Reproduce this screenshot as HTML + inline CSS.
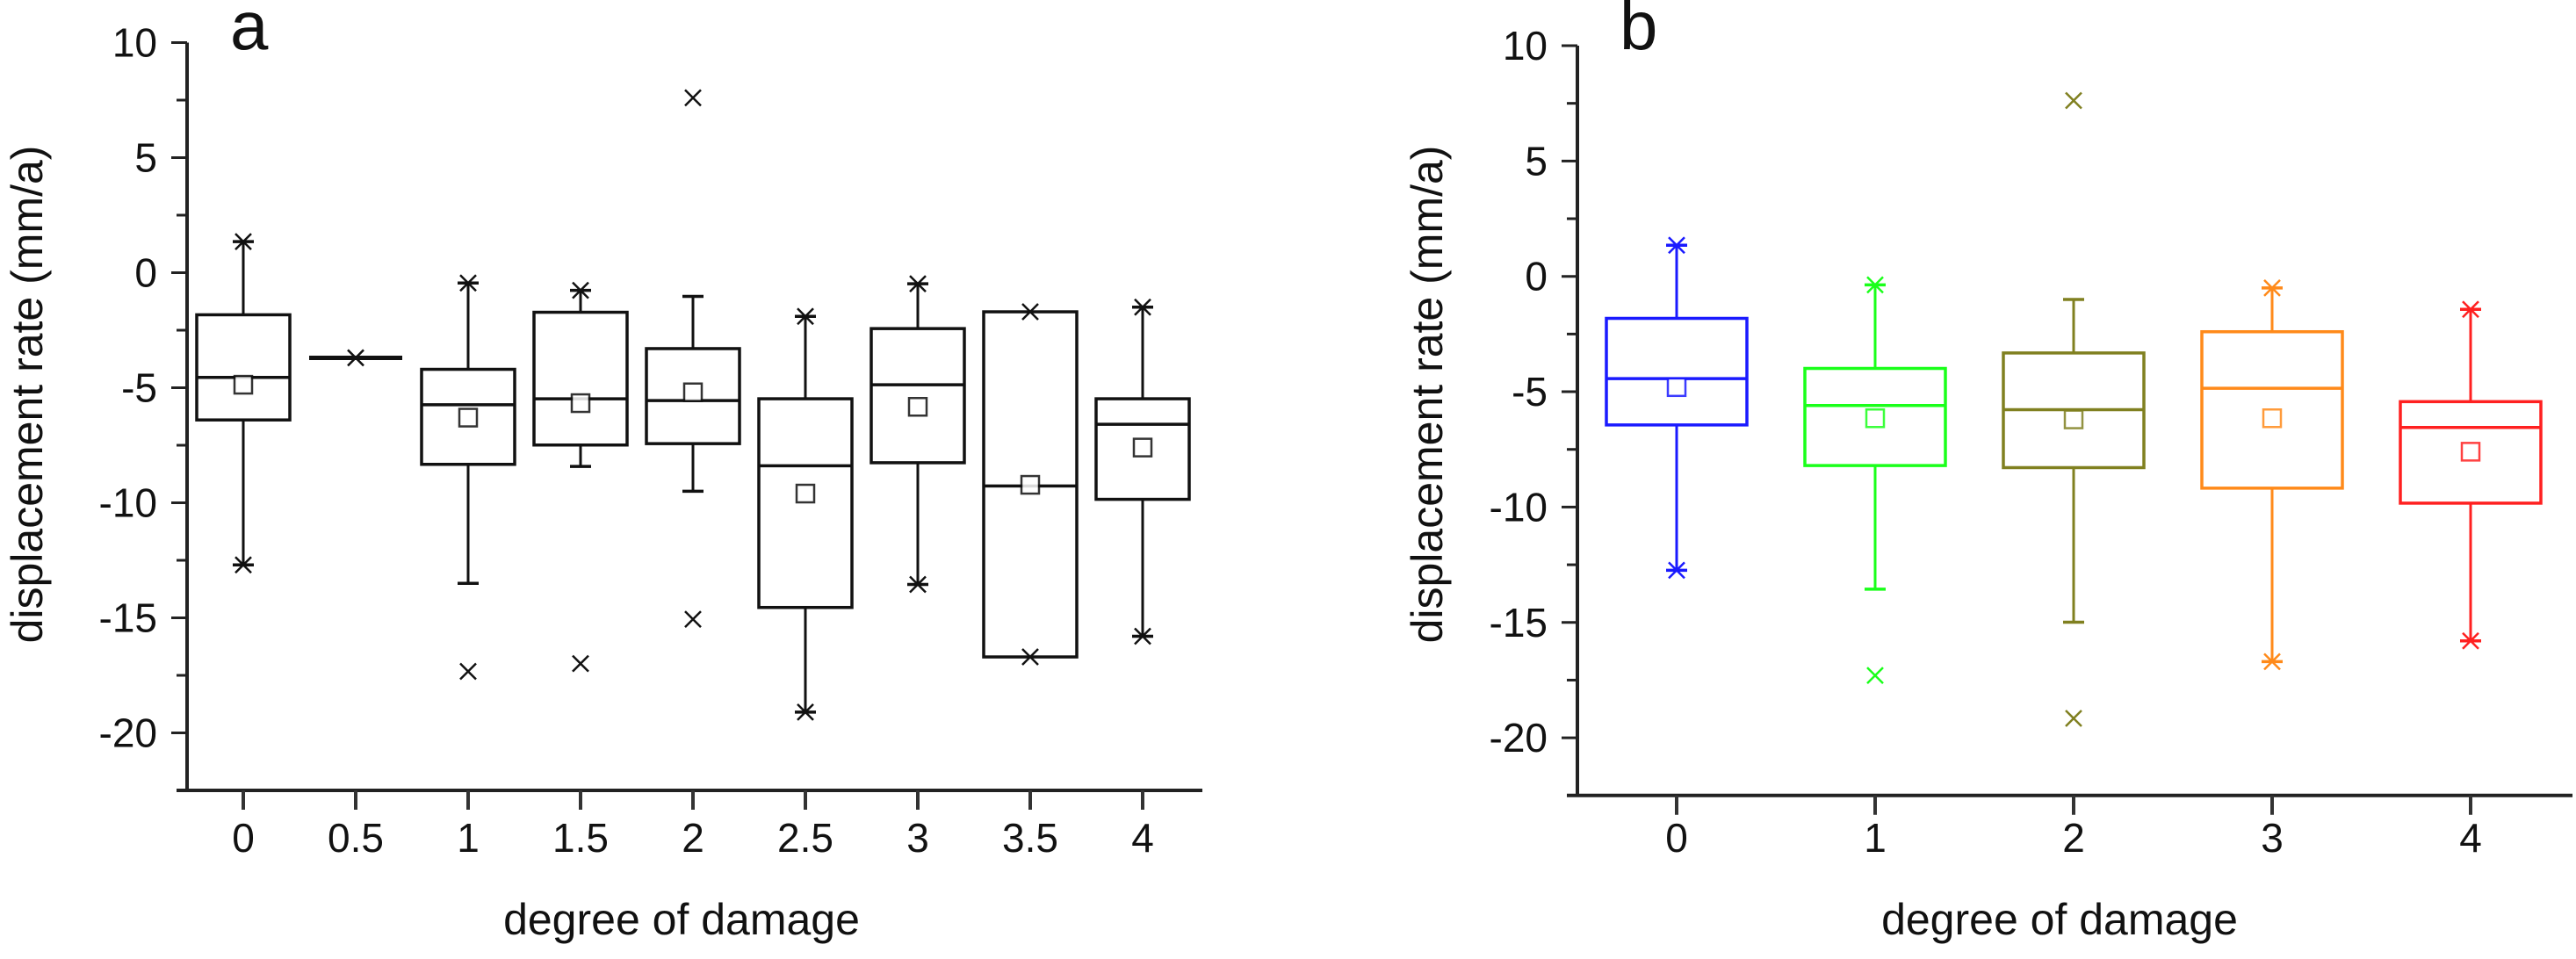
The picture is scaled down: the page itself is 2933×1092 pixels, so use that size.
<!DOCTYPE html>
<html><head><meta charset="utf-8"><style>
body{margin:0;background:#fff}
svg text{font-family:"Liberation Sans",sans-serif;fill:#111}
</style></head><body>
<svg id="chart" width="2933" height="1087" xmlns="http://www.w3.org/2000/svg">
<rect width="2933" height="1087" fill="#fff"/>
<g id="pa"></g>
<g id="pb"></g>
</svg>
<script>
// Panel a data
const catsA=[0,0.5,1,1.5,2,2.5,3,3.5,4];
const q3A=[-1.83,-3.7,-4.2,-1.72,-3.3,-5.48,-2.43,-1.7,-5.48];
const medA=[-4.55,-3.7,-5.74,-5.48,-5.56,-8.39,-4.87,-9.27,-6.59];
const q1A=[-6.4,-3.7,-8.33,-7.49,-7.43,-14.55,-8.26,-16.7,-9.85];
const meanA=[-4.87,-3.7,-6.3,-5.67,-5.2,-9.6,-5.83,-9.22,-7.6];
const hiA=[1.35,-3.7,-0.45,-0.77,-1.03,-1.9,-0.48,-1.7,-1.5];
const loA=[-12.7,-3.7,-13.5,-8.42,-9.5,-19.1,-13.55,-16.7,-15.8];
const outA=[[],[],[-17.33],[-16.99],[7.6,-15.06],[],[],[],[]];
const hiMarkA=['s','-','s','s','c','s','s','s','s'];
const loMarkA=['s','-','c','c','c','s','s','s','s'];
// Panel b data
const catsB=[0,1,2,3,4];
const q3B=[-1.82,-3.99,-3.32,-2.4,-5.43];
const medB=[-4.43,-5.6,-5.78,-4.85,-6.55];
const q1B=[-6.44,-8.2,-8.29,-9.18,-9.83];
const meanB=[-4.8,-6.15,-6.2,-6.15,-7.6];
const hiB=[1.35,-0.37,-1.0,-0.5,-1.43];
const loB=[-12.74,-13.56,-14.99,-16.7,-15.8];
const outB=[[],[-17.3],[7.62,-19.16],[],[]];
const hiMarkB=['s','s','c','s','s'];
const loMarkB=['s','c','c','s','s'];
const colorsB=["#1a1aff","#1aff1a","#808020","#ff8a1a","#ff2020"];
const yTicks=[10,5,0,-5,-10,-15,-20];

const NS="http://www.w3.org/2000/svg";
function mk(g,tag,attrs,name){const e=document.createElementNS(NS,tag);for(const k in attrs)e.setAttribute(k,attrs[k]);


g.appendChild(e);return e;}

function panel(g,cfg){
  const X=v=>cfg.x0+cfg.xs*v, Y=v=>cfg.y10+(10-v)*cfg.ys;
  const yBot=Y(-22.5);
  mk(g,'line',{x1:cfg.ax,y1:Y(10),x2:cfg.ax,y2:yBot,stroke:'#222','stroke-width':4},'y-axis');
  mk(g,'line',{x1:cfg.ax-12,y1:yBot,x2:cfg.xEnd,y2:yBot,stroke:'#222','stroke-width':4},'x-axis');
  for(let v=10;v>=-20;v-=2.5){
    const major=yTicks.includes(v);
    mk(g,'line',{x1:cfg.ax-(major?18:12),y1:Y(v),x2:cfg.ax,y2:Y(v),stroke:'#222','stroke-width':3},'y-tick');
  }
  yTicks.forEach(v=>{const t=mk(g,'text',{x:cfg.ax-34,y:Y(v)+16,'text-anchor':'end','font-size':46},'y-tick-label');t.textContent=v;});
  cfg.cats.forEach(c=>{
    mk(g,'line',{x1:X(c),y1:yBot,x2:X(c),y2:yBot+22,stroke:'#333','stroke-width':4},'x-tick');
    const t=mk(g,'text',{x:X(c),y:970,'text-anchor':'middle','font-size':46},'x-tick-label');t.textContent=c;
  });
  const yt=mk(g,'text',{x:0,y:0,'text-anchor':'middle','font-size':50,transform:`translate(${cfg.ytx},449) rotate(-90)`},'y-axis-title');yt.textContent='displacement rate (mm/a)';
  const xt=mk(g,'text',{x:cfg.xtx,y:1064,'text-anchor':'middle','font-size':50},'x-axis-title');xt.textContent='degree of damage';
  const pl=mk(g,'text',{x:cfg.plx,y:56,'font-size':78},'panel-label');pl.textContent=cfg.label;
  const hw=cfg.bw/2;
  function star(x,y,col){
    const s=9;
    mk(g,'path',{d:`M${x-s} ${y-s}L${x+s} ${y+s}M${x-s} ${y+s}L${x+s} ${y-s}`,stroke:col,'stroke-width':2.5,fill:'none'},'outlier-marker');
  }
  cfg.cats.forEach((c,i)=>{
    const col=cfg.colors?cfg.colors[i]:'#111';
    const x=X(c);
    const bg=mk(g,'g',{},'box-'+c);
    if(cfg.q3[i]===cfg.q1[i]){
      mk(bg,'line',{x1:x-hw,y1:Y(cfg.med[i]),x2:x+hw,y2:Y(cfg.med[i]),stroke:col,'stroke-width':5},'median-line');
      star(x,Y(cfg.med[i]),col);
    } else {
      const hasHi=cfg.hi[i]!==cfg.q3[i], hasLo=cfg.lo[i]!==cfg.q1[i];
      if(hasHi){
        mk(bg,'line',{x1:x,y1:Y(cfg.hi[i]),x2:x,y2:Y(cfg.q3[i]),stroke:col,'stroke-width':3},'whisker-upper');
        mk(bg,'line',{x1:x-12,y1:Y(cfg.hi[i]),x2:x+12,y2:Y(cfg.hi[i]),stroke:col,'stroke-width':3.5},'whisker-cap');
      }
      if(hasLo){
        mk(bg,'line',{x1:x,y1:Y(cfg.q1[i]),x2:x,y2:Y(cfg.lo[i]),stroke:col,'stroke-width':3},'whisker-lower');
        mk(bg,'line',{x1:x-12,y1:Y(cfg.lo[i]),x2:x+12,y2:Y(cfg.lo[i]),stroke:col,'stroke-width':3.5},'whisker-cap');
      }
      mk(bg,'rect',{x:x-hw,y:Y(cfg.q3[i]),width:cfg.bw,height:Y(cfg.q1[i])-Y(cfg.q3[i]),fill:'none',stroke:col,'stroke-width':3.5},'box');
      mk(bg,'line',{x1:x-hw,y1:Y(cfg.med[i]),x2:x+hw,y2:Y(cfg.med[i]),stroke:col,'stroke-width':3.5},'median-line');
      if(cfg.hiMark[i]==='s')star(x,Y(cfg.hi[i]),col);
      if(cfg.loMark[i]==='s')star(x,Y(cfg.lo[i]),col);
      mk(bg,'rect',{x:x-10,y:Y(cfg.mean[i])-10,width:20,height:20,fill:'#fff',stroke:col,'stroke-width':2.5,opacity:0.85},'mean-marker');
    }
    cfg.out[i].forEach(o=>star(x,Y(o),col));
  });
}
panel(document.getElementById('pa'),{x0:277,xs:256,y10:48.5,ys:26.2,ax:213,xEnd:1369,cats:catsA,q3:q3A,med:medA,q1:q1A,mean:meanA,hi:hiA,lo:loA,out:outA,hiMark:hiMarkA,loMark:loMarkA,bw:106,ytx:48,xtx:776,plx:262,label:'a'});
panel(document.getElementById('pb'),{x0:1909,xs:226,y10:52,ys:26.27,ax:1796,xEnd:2929,cats:catsB,q3:q3B,med:medB,q1:q1B,mean:meanB,hi:hiB,lo:loB,out:outB,hiMark:hiMarkB,loMark:loMarkB,bw:160,colors:colorsB,ytx:1642,xtx:2345,plx:1844,label:'b'});
</script>
</body></html>
